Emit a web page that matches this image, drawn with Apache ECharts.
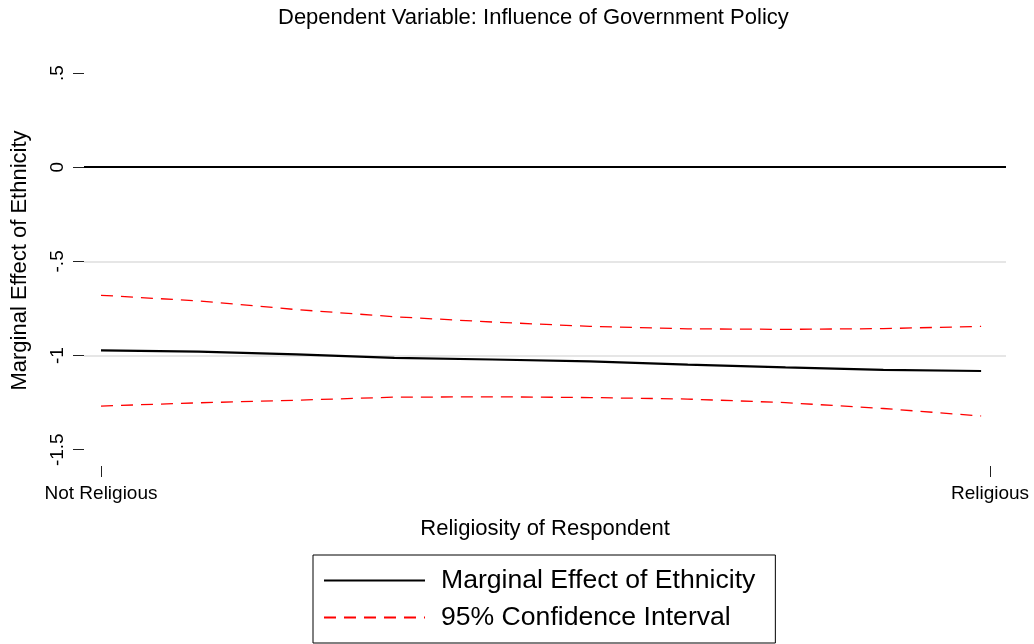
<!DOCTYPE html>
<html>
<head>
<meta charset="utf-8">
<script src="https://cdn.jsdelivr.net/npm/echarts@6/dist/echarts.min.js"></script>
<style>html,body{margin:0;padding:0;background:#fff;}#c{width:1034px;height:644px;}</style>
</head>
<body>
<div id="c"></div>
<script>
// Data
const religiosity = [0, 0.11, 0.22, 0.33, 0.44, 0.55, 0.66, 0.77, 0.88, 0.99];
const marginalEffect = [-0.973, -0.979, -0.994, -1.012, -1.021, -1.031, -1.048, -1.063, -1.076, -1.082];
const ciUpper = [-0.680, -0.710, -0.756, -0.794, -0.822, -0.845, -0.858, -0.861, -0.857, -0.845];
const ciLower = [-1.268, -1.251, -1.237, -1.221, -1.219, -1.223, -1.231, -1.250, -1.281, -1.321];
const yTickValues = [-1.5, -1, -0.5, 0, 0.5];
const yTickLabels = ['-1.5', '-1', '-.5', '0', '.5'];
const xTickValues = [0, 1];
const xTickLabels = ['Not Religious', 'Religious'];
const gridLineValues = [-0.5, -1];
const titleText = 'Dependent Variable: Influence of Government Policy';
const xName = 'Religiosity of Respondent';
const yName = 'Marginal Effect of Ethnicity';
const seriesNames = ['Marginal Effect of Ethnicity', '95% Confidence Interval'];

const FONT = "'Liberation Sans', Arial, sans-serif";
const pairs = (xs, ys) => xs.map((x, i) => [x, ys[i]]);

const chart = echarts.init(document.getElementById('c'), null, {renderer: 'canvas'});
const markData = gridLineValues.map(v => ({yAxis: v, lineStyle: {color: '#e6e6e6', width: 2, type: 'solid'}}));
markData.push({yAxis: 0, lineStyle: {color: '#000', width: 2, type: 'solid'}});

chart.setOption({
  animation: false,
  backgroundColor: '#fff',
  textStyle: {fontFamily: FONT},
  title: {
    text: titleText, left: 278, top: 7, padding: 0,
    textStyle: {fontFamily: FONT, fontSize: 22, fontWeight: 'normal', color: '#000'}
  },
  grid: {left: 84, right: 28, top: 55, bottom: 178, containLabel: false},
  xAxis: {
    type: 'value', min: -0.01912, max: 1.018,
    name: xName, nameLocation: 'middle', nameGap: 52,
    nameTextStyle: {fontFamily: FONT, fontSize: 22, color: '#000'},
    axisLine: {show: false, onZero: false},
    splitLine: {show: false},
    axisTick: {show: true, customValues: xTickValues, length: 11, lineStyle: {color: '#222', width: 1}},
    axisLabel: {customValues: xTickValues, margin: 18, fontFamily: FONT, fontSize: 19, color: '#000',
      formatter: v => xTickLabels[xTickValues.indexOf(v)] ?? ''}
  },
  yAxis: {
    type: 'value', min: -1.5864, max: 0.5957,
    name: yName, nameLocation: 'middle', nameGap: 53,
    nameTextStyle: {fontFamily: FONT, fontSize: 22, color: '#000'},
    axisLine: {show: false, onZero: false},
    splitLine: {show: false},
    axisTick: {show: true, customValues: yTickValues, length: 11, lineStyle: {color: '#222', width: 1}},
    axisLabel: {customValues: yTickValues, rotate: 90, margin: 17, fontFamily: FONT, fontSize: 19, color: '#000',
      formatter: v => yTickLabels[yTickValues.indexOf(v)] ?? ''}
  },
  legend: {
    orient: 'vertical', left: 313, top: 555,
    padding: [12, 20, 12, 10],
    itemWidth: 101, itemHeight: 26, itemGap: 10,
    borderColor: '#000', borderWidth: 1, borderRadius: 0,
    itemStyle: {opacity: 0},
    data: seriesNames,
    textStyle: {fontFamily: FONT, fontSize: 26.6, color: '#000', padding: [0, 0, 0, 11]}
  },
  series: [
    {
      name: seriesNames[0], type: 'line', data: pairs(religiosity, marginalEffect),
      showSymbol: false, symbol: 'none', z: 3,
      lineStyle: {color: '#000', width: 2.2}, itemStyle: {color: '#000'},
      markLine: {silent: true, symbol: 'none', z: 1, label: {show: false}, data: markData}
    },
    {
      name: seriesNames[1], type: 'line', data: pairs(religiosity, ciUpper),
      showSymbol: false, symbol: 'none', z: 3,
      lineStyle: {color: '#ff0000', width: 1.3, type: [12, 8]}, itemStyle: {color: '#ff0000'}
    },
    {
      name: seriesNames[1], type: 'line', data: pairs(religiosity, ciLower),
      showSymbol: false, symbol: 'none', z: 3,
      lineStyle: {color: '#ff0000', width: 1.3, type: [12, 8]}, itemStyle: {color: '#ff0000'}
    }
  ]
});
</script>
</body>
</html>
